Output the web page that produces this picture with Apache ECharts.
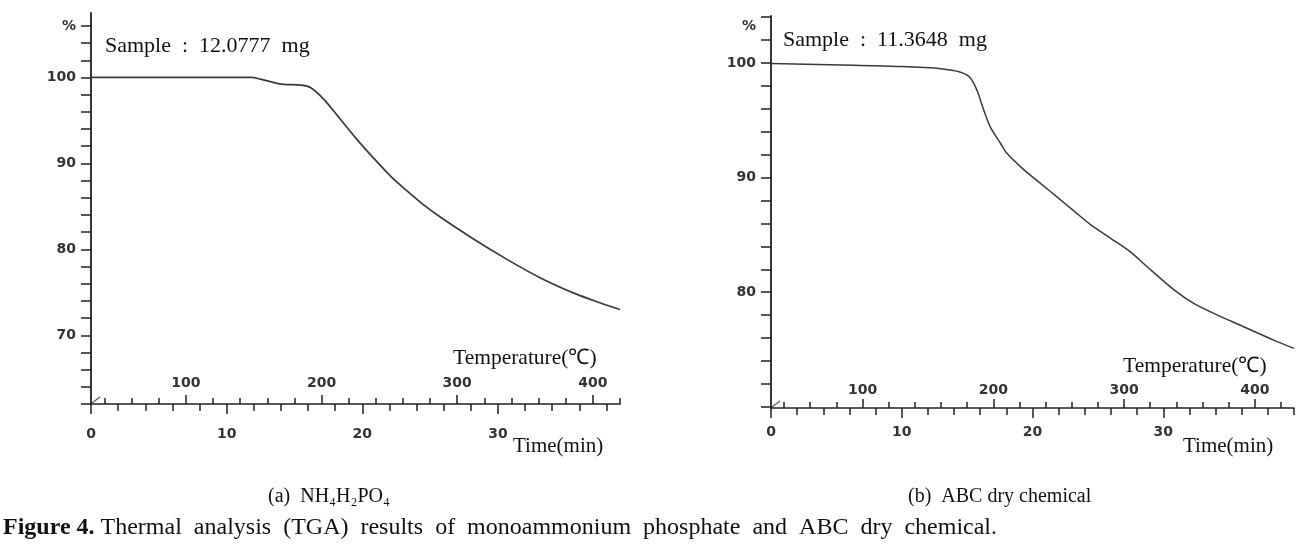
<!DOCTYPE html>
<html><head><meta charset="utf-8">
<script src="https://cdn.jsdelivr.net/npm/echarts@6/dist/echarts.min.js"></script>
<style>html,body{margin:0;padding:0;background:#fff}#c{width:1314px;height:559px}</style>
</head><body><div id="c"></div>
<script>
// ---- Data ----
// (a) NH4H2PO4 : time (min) vs residual mass (%)
const timeA = [0, 5, 11.8, 12.5, 13.5, 14.2, 15.5, 16.2, 17.2, 18.4, 19.6, 20.9, 22.1, 23.3, 24.5, 25.8, 28.2, 30.7, 33.1, 35.6, 37.3, 39.0];
const massA = [100, 100, 100, 99.8, 99.4, 99.2, 99.1, 98.8, 97.4, 95.1, 92.8, 90.5, 88.5, 86.8, 85.2, 83.7, 81.2, 78.8, 76.7, 74.9, 73.9, 73.0];
// (b) ABC dry chemical
const timeB = [0, 6.3, 9.6, 12.95, 14.5, 15.25, 15.76, 16.27, 16.78, 17.55, 18.06, 19.33, 20.61, 21.89, 23.16, 24.44, 25.98, 27.51, 28.79, 30.83, 32.36, 34.15, 35.94, 38.49, 40];
const massB = [99.95, 99.8, 99.7, 99.5, 99.2, 98.7, 97.6, 95.9, 94.4, 93.0, 92.1, 90.7, 89.5, 88.3, 87.1, 85.9, 84.7, 83.5, 82.2, 80.2, 79.0, 78.0, 77.1, 75.8, 75.1];

const timeTicksMajor = [0, 10, 20, 30];
const tempTicksMajor = [100, 200, 300, 400];
const yLabelsA = [70, 80, 90, 100, 106];
const yLabelsB = [80, 90, 100, 103.2];
const sampleA = 'Sample  :  12.0777  mg';
const sampleB = 'Sample  :  11.3648  mg';
const subA = '(a)  NH₄H₂PO₄';
const subB = '(b)  ABC dry chemical';
const caption = ['Figure 4.', 'Thermal  analysis  (TGA)  results  of  monoammonium  phosphate  and  ABC  dry  chemical.'];

function range(a, b, s) { const r = []; for (let v = a; v <= b + 1e-9; v += s) r.push(+v.toFixed(4)); return r; }

const AX = '#222';
const LBL = {color: '#333', fontFamily: 'DejaVu Sans', fontSize: 14, fontWeight: 'bold'};

function xAxes(g, tMax, tempMin, tempMax, timeMargin, tempMargin) {
  return [
    {type: 'value', gridIndex: g, position: 'bottom', min: 0, max: tMax,
     axisLine: {show: true, lineStyle: {color: AX, width: 1.6}},
     axisTick: {show: true, length: 10, customValues: timeTicksMajor, lineStyle: {color: AX, width: 1.5}},
     axisLabel: Object.assign({customValues: timeTicksMajor, margin: timeMargin}, LBL),
     splitLine: {show: false}},
    {type: 'value', gridIndex: g, position: 'bottom', min: 0, max: tMax,
     axisLine: {show: false},
     axisTick: {show: true, length: 7, customValues: range(2, tMax, 2), lineStyle: {color: AX, width: 1.5}},
     axisLabel: {show: false}, splitLine: {show: false}},
    {type: 'value', gridIndex: g, position: 'bottom', min: tempMin, max: tempMax,
     axisLine: {show: false},
     axisTick: {show: true, inside: true, length: 9, customValues: tempTicksMajor, lineStyle: {color: AX, width: 1.5}},
     axisLabel: Object.assign({inside: true, customValues: tempTicksMajor, margin: tempMargin}, LBL),
     splitLine: {show: false}},
    {type: 'value', gridIndex: g, position: 'bottom', min: tempMin, max: tempMax,
     axisLine: {show: false},
     axisTick: {show: true, inside: true, length: 6, customValues: range(40, tempMax, 20), lineStyle: {color: AX, width: 1.5}},
     axisLabel: {show: false}, splitLine: {show: false}}
  ];
}
function yAxis(g, min, max, tickMin, tickMax, labels) {
  return {type: 'value', gridIndex: g, position: 'left', min: min, max: max,
    axisLine: {show: true, lineStyle: {color: AX, width: 1.8}},
    axisTick: {show: true, length: 10, customValues: range(tickMin, tickMax, 2), lineStyle: {color: AX, width: 1.5}},
    axisLabel: Object.assign({customValues: labels, margin: 15,
      formatter: v => (v > 101 ? '%' : String(v))}, LBL),
    splitLine: {show: false}};
}

const chart = echarts.init(document.getElementById('c'), null, {renderer: 'canvas'});
const serif = '"Liberation Serif", "Times New Roman", serif';
function txt(x, y, text, size, extra) {
  return Object.assign({type: 'text', x: x, y: y, silent: true,
    style: {text: text, fontFamily: serif, fontSize: size, fill: '#111', verticalAlign: 'middle', align: 'left'}}, extra || {});
}
chart.setOption({
  animation: false,
  backgroundColor: '#fff',
  grid: [
    {left: 91, top: 13, width: 529, height: 391, outerBoundsMode: 'none'},
    {left: 771, top: 16, width: 523, height: 392, outerBoundsMode: 'none'}
  ],
  xAxis: [].concat(xAxes(0, 39, 30, 420, 23, 14), xAxes(1, 40, 30, 430, 17, 11)),
  yAxis: [yAxis(0, 62, 107.5, 62, 106, yLabelsA), yAxis(1, 69.9, 104.1, 70, 104, yLabelsB)],
  series: [
    {type: 'line', xAxisIndex: 0, yAxisIndex: 0, data: timeA.map((t, i) => [t, massA[i]]),
     showSymbol: false, smooth: 0.3, lineStyle: {color: '#3a3a3a', width: 1.7}},
    {type: 'line', xAxisIndex: 4, yAxisIndex: 1, data: timeB.map((t, i) => [t, massB[i]]),
     showSymbol: false, smooth: 0.3, lineStyle: {color: '#3a3a3a', width: 1.5}}
  ],
  graphic: [
    txt(105, 46, sampleA, 22),
    txt(783, 40, sampleB, 22),
    txt(453, 358, 'Temperature(℃)', 21.5),
    txt(513, 446, 'Time(min)', 21),
    txt(1123, 366, 'Temperature(℃)', 21.5),
    txt(1183, 446, 'Time(min)', 21),
    txt(268, 497, subA, 20),
    txt(908, 497, subB, 20),
    {type: 'text', x: 3, y: 528, silent: true,
     style: {text: '{b|' + caption[0] + '} ' + caption[1], fontFamily: serif, fontSize: 24, fill: '#111', verticalAlign: 'middle',
       rich: {b: {fontFamily: serif, fontSize: 24, fontWeight: 'bold', fill: '#111'}}}}
  ]
});
// small axis-break slash at each origin
const slashes = [[0, 0, 62], [1, 4, 69.9]].map(([g, xi, ymin]) => {
  const p = chart.convertToPixel({xAxisIndex: xi, yAxisIndex: g}, [0, ymin]);
  return {type: 'line', silent: true, shape: {x1: p[0] + 1, y1: p[1] - 1, x2: p[0] + 9, y2: p[1] - 7}, style: {stroke: '#555', lineWidth: 1.2}};
});
chart.setOption({graphic: slashes.map((s, i) => Object.assign({id: 'sl' + i}, s))});
</script></body></html>
